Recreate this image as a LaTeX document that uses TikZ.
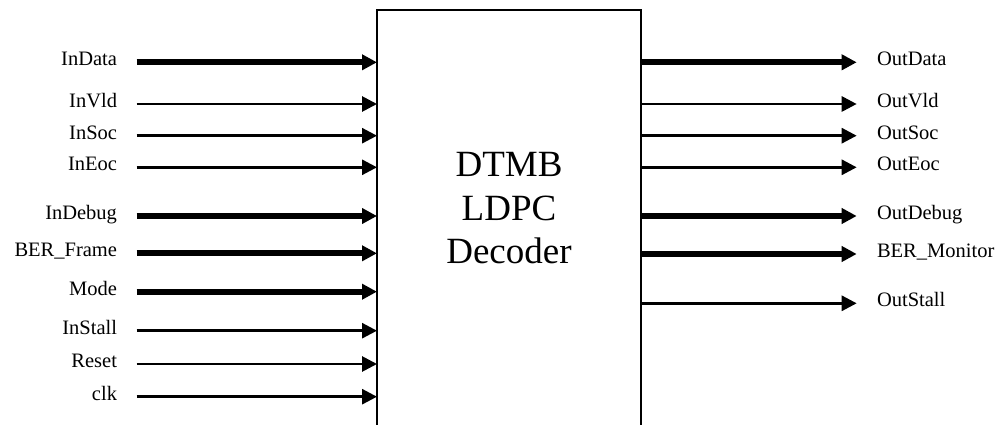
\documentclass[tikz,border=0pt]{standalone}
\usepackage{fontspec}
\setmainfont{Liberation Serif}
\usetikzlibrary{arrows.meta}
\begin{document}
\begin{tikzpicture}[x=1pt,y=-1pt,
  lbl/.style={inner sep=0pt, outer sep=0pt, font=\fontsize{20.5}{24}\selectfont, text height=0.8em, text depth=0.138em},
  sig/.style={-{Triangle[length=15pt,width=15pt]}},
  blockbox/.style={draw, line width=2.8pt, inner sep=0pt, outer sep=0pt, minimum width=264pt, minimum height=450pt, anchor=north west},
  titletext/.style={font=\fontsize{37}{43.5}\selectfont, align=center, inner sep=0pt}
]
\useasboundingbox (0,0) rectangle (1001,425);
\clip (0,0) rectangle (1001,425);
\node[blockbox] (dec) at (377,10) {};
\node[titletext] (title) at (509,208.5) {DTMB\\LDPC\\Decoder};
% inputs
\foreach \i/\y/\t/\w in {1/62.3/InData/6pt, 2/104/InVld/2.8pt, 3/135.7/InSoc/2.8pt, 4/167.3/InEoc/2.8pt,
  5/216/InDebug/6pt, 6/253.3/BER\_Frame/6pt, 7/291.7/Mode/6pt, 8/330.7/InStall/2.8pt,
  9/364/Reset/2.8pt, 10/396.7/clk/2.8pt}{
  \node[lbl, anchor=east] (in\i) at (117,\y) {\t};
  \coordinate (ls\i) at (136.5,\y);
  \draw[sig, line width=\w] (ls\i) -- (ls\i -| dec.west);
}
% outputs
\foreach \i/\y/\t/\w in {1/62.3/OutData/6pt, 2/104/OutVld/2.8pt, 3/135.7/OutSoc/2.8pt, 4/167.3/OutEoc/2.8pt,
  5/216/OutDebug/6pt, 6/254/BER\_Monitor/6pt, 7/303.3/OutStall/2.8pt}{
  \node[lbl, anchor=west] (out\i) at (877,\y) {\t};
  \coordinate (re\i) at (856.7,\y);
  \draw[sig, line width=\w] (re\i -| dec.east) -- (re\i);
}
\end{tikzpicture}
\end{document}
